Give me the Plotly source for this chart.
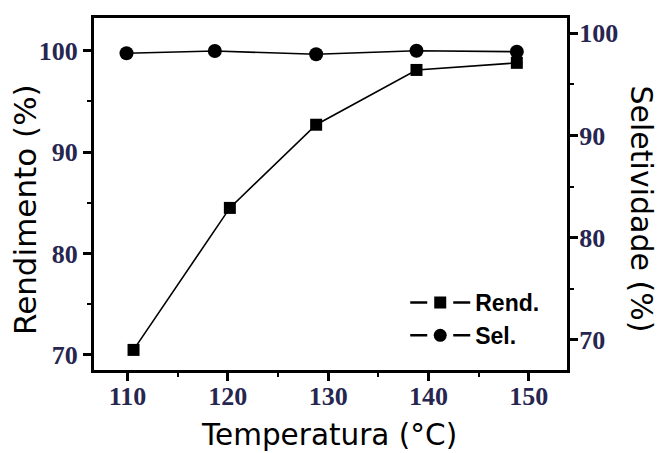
import plotly.graph_objects as go

# Data
temp_rend = [110.6, 120.2, 128.8, 138.8, 148.8]
rendimento = [70.5, 84.5, 92.7, 98.1, 98.8]
temp_sel = [109.9, 118.7, 128.8, 138.8, 148.8]
seletividade = [98.05, 98.27, 97.95, 98.3, 98.2]

x_ticks = [110, 120, 130, 140, 150]
x_minor = [115, 125, 135, 145]
y_ticks = [70, 80, 90, 100]
y_minor = [75, 85, 95]

x_title = "Temperatura (°C)"
y1_title = "Rendimento (%)"
y2_title = "Seletividade (%)"
legend_names = ["Rend.", "Sel."]

tick_font = dict(family="Liberation Serif", size=26, color="#262650", weight="bold")
title_font = "DejaVu Sans"

fig = go.Figure()

fig.add_trace(go.Scatter(
    x=temp_rend, y=rendimento, mode="lines+markers", showlegend=False,
    line=dict(color="black", width=1.6),
    marker=dict(symbol="square", size=12, color="black"),
))
fig.add_trace(go.Scatter(
    x=temp_sel, y=seletividade, mode="lines+markers", showlegend=False, yaxis="y2",
    line=dict(color="black", width=1.6),
    marker=dict(symbol="circle", size=14, color="black"),
))
# legend-only entries (dashed symbol look)
fig.add_trace(go.Scatter(
    x=[None], y=[None], mode="lines+markers", name=legend_names[0], legendgroup="a",
    line=dict(color="black", width=2.5, dash="17px,26px,17px"),
    marker=dict(symbol="square", size=12, color="black"),
))
fig.add_trace(go.Scatter(
    x=[None], y=[None], mode="lines+markers", name=legend_names[1], legendgroup="b",
    line=dict(color="black", width=2.5, dash="17px,26px,17px"),
    marker=dict(symbol="circle", size=13, color="black"),
))

axis_common = dict(
    showline=True, linecolor="black", linewidth=3,
    ticks="outside", ticklen=8, tickwidth=3, tickcolor="black",
    showgrid=False, zeroline=False, tickfont=tick_font,
)


def minor(vals):
    return dict(tickvals=vals, ticks="outside", ticklen=4, tickwidth=2, tickcolor="black")


fig.update_layout(
    width=657, height=453,
    margin=dict(l=94, r=90, t=18, b=83),
    paper_bgcolor="white", plot_bgcolor="white",
    xaxis=dict(range=[106.66, 153.8], tickvals=x_ticks, mirror=True, minor=minor(x_minor),
               ticklabelstandoff=-7, **axis_common),
    yaxis=dict(range=[68.52, 103.22], tickvals=y_ticks, minor=minor(y_minor), **axis_common),
    yaxis2=dict(range=[67.06, 101.5], tickvals=y_ticks, overlaying="y", side="right",
                minor=minor(y_minor), ticklabelstandoff=-4, **axis_common),
    legend=dict(x=0.658, y=0.253, xanchor="left", yanchor="top",
                bgcolor="rgba(0,0,0,0)", itemwidth=60, traceorder="grouped", tracegroupgap=0,
                font=dict(family="Liberation Sans", size=23, color="black", weight="bold")),
    showlegend=True,
    annotations=[
        dict(text=x_title, xref="paper", yref="paper", x=(329 - 94) / 473, y=(370 - 435) / 352,
             xanchor="center", yanchor="middle", showarrow=False,
             font=dict(family=title_font, size=29.5, color="black")),
        dict(text=y1_title, xref="paper", yref="paper", x=(25 - 94) / 473, y=(370 - 210) / 352,
             xanchor="center", yanchor="middle", showarrow=False, textangle=-90,
             font=dict(family=title_font, size=31, color="black")),
        dict(text=y2_title, xref="paper", yref="paper", x=(641 - 94) / 473, y=(370 - 208.5) / 352,
             xanchor="center", yanchor="middle", showarrow=False, textangle=90,
             font=dict(family=title_font, size=30, color="black")),
    ],
)

fig.write_html("out.html", config={"displayModeBar": False},
               post_script="document.body.style.margin='0px';")
